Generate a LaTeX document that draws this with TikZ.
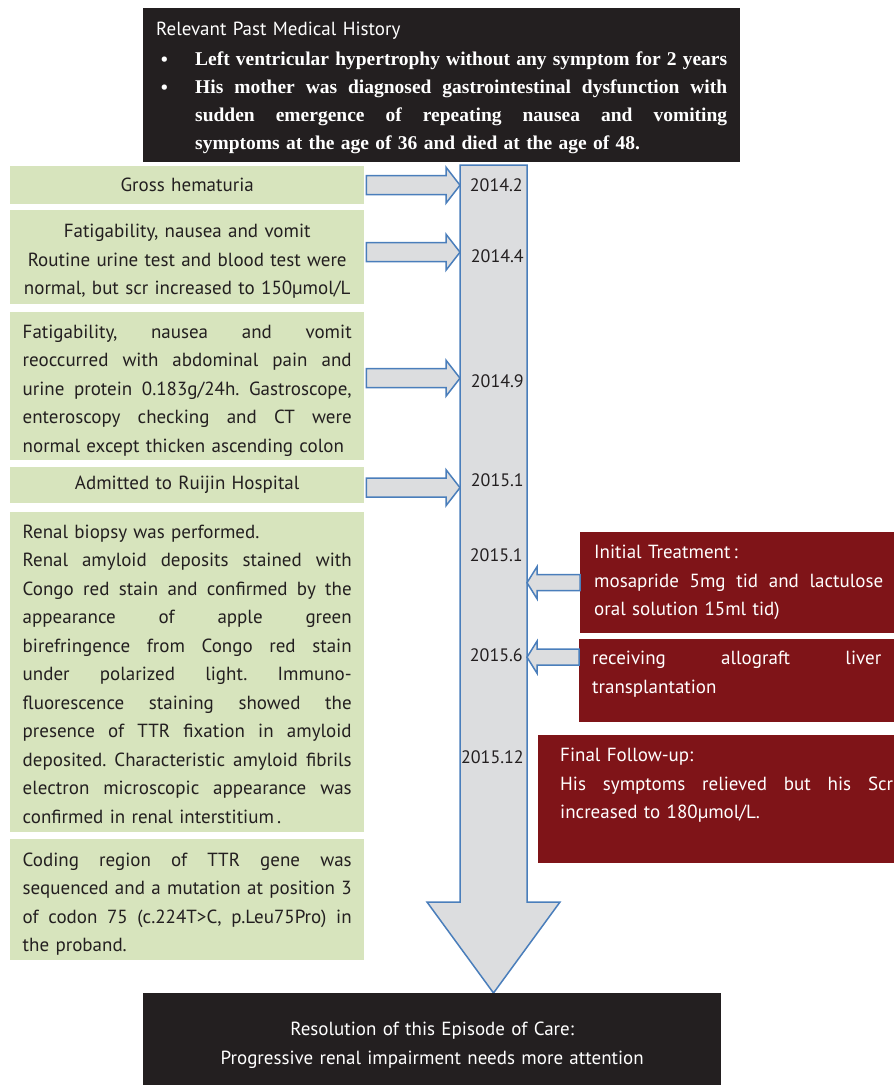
\documentclass[tikz,border=0pt]{standalone}
\usepackage{fontspec}
\setmainfont{PT Sans}
\newfontfamily\timesbold{Liberation Serif}
\usetikzlibrary{calc}

\definecolor{darkbg}{HTML}{231F20}
\definecolor{greenbg}{HTML}{D7E4BD}
\definecolor{redbg}{HTML}{7F1418}
\definecolor{tlgray}{HTML}{DCDDDF}
\definecolor{tlblue}{HTML}{4A7EBB}
\definecolor{ink}{HTML}{231F20}

% justified lines
\newcommand\stretchsp{\spaceskip=\fontdimen2\font plus 1fil minus 0.1em\relax}
\newcommand\jl[1]{\makebox[\hsize][s]{\stretchsp#1}}
\newcommand\bfont{\fontsize{19.5pt}{28pt}\selectfont\timesbold\bfseries}
\newcommand\bl[1]{\makebox[532pt][s]{\bfont\stretchsp#1}}
\newcommand\hbul{\makebox[39pt][l]{\hspace{4pt}\textbullet}}
\newcommand\hind{\hspace*{39pt}}

% block arrows to the time line
\newcommand\rarrow[2]{%
  \path[smallarrow] let \p1=(#1), \p2=(#2) in
    (\x1,\y1+9.5pt) -- (\x2-14pt,\y1+9.5pt) -- (\x2-14pt,\y1+18pt) -- (\x2,\y1)
    -- (\x2-14pt,\y1-18pt) -- (\x2-14pt,\y1-9.5pt) -- (\x1,\y1-9.5pt) -- cycle;}
\newcommand\larrow[2]{%
  \path[smallarrow] let \p1=(#1), \p2=(#2) in
    (\x1,\y1+8pt) -- (\x2+10pt,\y1+8pt) -- (\x2+10pt,\y1+16pt) -- (\x2,\y1)
    -- (\x2+10pt,\y1-16pt) -- (\x2+10pt,\y1-8pt) -- (\x1,\y1-8pt) -- cycle;}

\tikzset{
  every node/.style={font=\fontsize{19pt}{28.5pt}\selectfont\frenchspacing},
  hist/.style={fill=darkbg,text=white,anchor=north west,text width=571pt,
    inner xsep=13pt,minimum height=154pt,font=\fontsize{19pt}{28pt}\selectfont\frenchspacing},
  event/.style={fill=greenbg,text=ink,anchor=north west,text width=329pt,
    inner xsep=12.5pt,inner ysep=0pt},
  treat/.style={fill=redbg,text=white,anchor=north west,inner ysep=0pt},
  resol/.style={fill=darkbg,text=white,anchor=north west,text width=552pt,
    inner xsep=13pt,minimum height=92pt,align=center},
  date/.style={anchor=east,text=ink,inner sep=0pt,font=\fontsize{18pt}{20pt}\selectfont},
  tlarrow/.style={draw=tlblue,fill=tlgray,line width=1.5pt},
  smallarrow/.style={draw=tlblue,fill=tlgray,line width=1.5pt}
}

\begin{document}
\begin{tikzpicture}[x=1pt,y=-1pt]
\useasboundingbox (0,0) rectangle (894,1085);

\node[hist] (hist) at (143,8) {Relevant Past Medical History\\[2pt]
\hbul\bl{Left ventricular hypertrophy without any symptom for 2 years}\\
\hbul\bl{His mother was diagnosed gastrointestinal dysfunction with}\\
\hind\bl{sudden emergence of repeating nausea and vomiting}\\
\hind{\bfont symptoms at the age of 36 and died at the age of 48.}\par\vspace{-6pt}};

% time line
\coordinate (tlw) at (460,165);
\coordinate (tle) at (527,165);
\draw[tlarrow] (tlw) -- (tle) -- (527,902) -- (560,902) -- (493.5,993)
  -- (427,902) -- (460,902) -- cycle;

\node[date] (d1) at (523,185) {2014.2};
\node[date] (d2) at (524,256) {2014.4};
\node[date] (d3) at (524,381) {2014.9};
\node[date] (d4) at (524,480) {2015.1};
\node[date] (d5) at (523,555) {2015.1};
\node[date] (d6) at (523,655) {2015.6};
\node[date] (d7) at (524,757) {2015.12};

% events
\node[event,minimum height=38pt,align=center] (g1) at (10,166) {Gross hematuria};
\node[event,minimum height=94pt,align=center] (g2) at (10,210) {Fatigability, nausea and vomit\\
  Routine urine test and blood test were\\ normal, but scr increased to 150µmol/L\par\vspace{-8pt}};
\node[event,minimum height=148pt] (g3) at (10,312) {\jl{Fatigability, nausea and vomit}\\
  \jl{reoccurred with abdominal pain and}\\
  \jl{urine protein 0.183g/24h. Gastroscope,}\\
  \jl{enteroscopy checking and CT were}\\
  normal except thicken ascending colon\par\vspace{-9pt}};
\node[event,minimum height=36pt,align=center] (g4) at (10,467) {Admitted to Ruijin Hospital};
\node[event,minimum height=320pt] (g5) at (10,512) {Renal biopsy was performed.\\
  \jl{Renal amyloid deposits stained with}\\
  \jl{Congo red stain and confirmed by the}\\
  \jl{appearance of apple green}\\
  \jl{birefringence from Congo red stain}\\
  \jl{under polarized light. Immuno-}\\
  \jl{fluorescence staining showed the}\\
  \jl{presence of TTR fixation in amyloid}\\
  \jl{deposited. Characteristic amyloid fibrils}\\
  \jl{electron microscopic appearance was}\\
  confirmed in renal interstitium\,.\par\vspace{-4pt}};
\node[event,minimum height=121pt] (g6) at (10,839) {\jl{Coding region of TTR gene was}\\
  \jl{sequenced and a mutation at position 3}\\
  \jl{of codon 75 (c.224T>C, p.Leu75Pro) in}\\
  the proband.\par\vspace{-9pt}};

% treatment
\node[treat,text width=289pt,inner xsep=14pt,minimum height=101pt] (r1) at (580,532)
  {Initial Treatment\,:\\
  \jl{mosapride 5mg tid and lactulose}\\
  oral solution 15ml tid)};
\node[treat,text width=289pt,inner xsep=13pt,minimum height=83pt] (r2) at (579,639)
  {\jl{receiving allograft liver}\\
  transplantation\par\vspace{13pt}};
\node[treat,text width=333pt,inner xsep=22pt,minimum height=128pt] (r3) at (538,735)
  {Final Follow-up:\\
  \jl{His symptoms relieved but his Scr}\\
  increased to 180µmol/L.\par\vspace{28pt}};

% arrows
\rarrow{[xshift=2pt]g1.east}{tlw}
\rarrow{[xshift=2pt,yshift=5pt]g2.east}{tlw}
\rarrow{[xshift=2pt,yshift=8pt]g3.east}{tlw}
\rarrow{[xshift=2pt,yshift=-2.5pt]g4.east}{tlw}
\larrow{r1.west}{tle}
\larrow{[yshift=23.5pt]r2.west}{tle}

\node[resol] (res) at (143,993) {Resolution of this Episode of Care:\\
  Progressive renal impairment needs more attention\par\vspace{-12pt}};
\end{tikzpicture}
\end{document}
